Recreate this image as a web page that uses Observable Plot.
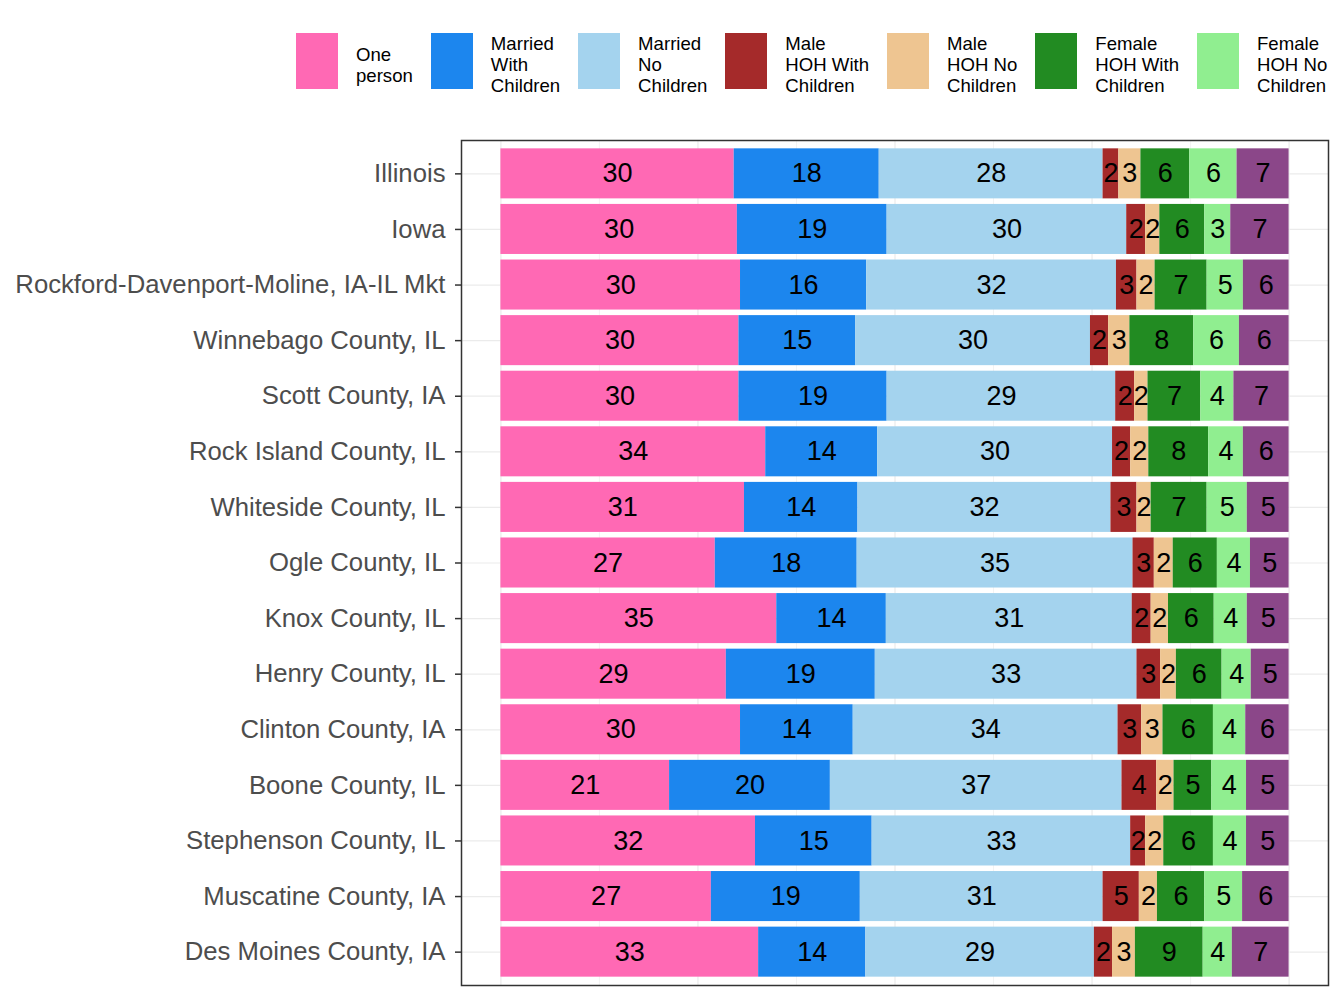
<!DOCTYPE html>
<html><head><meta charset="utf-8">
<script src="https://cdn.jsdelivr.net/npm/d3@7"></script>
<script src="https://cdn.jsdelivr.net/npm/@observablehq/plot@0.6"></script>
<style>
body{margin:0;background:#fff;font-family:"Liberation Sans",Arial,sans-serif;width:1344px;height:1008px;overflow:hidden}
#legend{position:relative;height:130px;width:1344px;overflow:hidden}
#legend .row{position:absolute;left:296px;top:33px;display:flex;align-items:flex-start;white-space:nowrap}
#legend .sw{width:42px;height:56px;margin-right:18px;flex:none}
#legend .lb{font-size:18.6px;line-height:21px;color:#000;margin-right:18px;white-space:pre;flex:none;align-self:center}
#chart{height:878px}
</style></head>
<body>
<div id="legend"><div class="row" id="lrow"></div></div>
<div id="chart"></div>
<script>
const counties = ["Illinois","Iowa","Rockford-Davenport-Moline, IA-IL Mkt","Winnebago County, IL","Scott County, IA","Rock Island County, IL","Whiteside County, IL","Ogle County, IL","Knox County, IL","Henry County, IL","Clinton County, IA","Boone County, IL","Stephenson County, IL","Muscatine County, IA","Des Moines County, IA"];
const categories = ["One person","Married With Children","Married No Children","Male HOH With Children","Male HOH No Children","Female HOH With Children","Female HOH No Children","Other"];
const legendLabels = ["One\nperson","Married\nWith\nChildren","Married\nNo\nChildren","Male\nHOH With\nChildren","Male\nHOH No\nChildren","Female\nHOH With\nChildren","Female\nHOH No\nChildren"];
const colors = ["#FF69B4","#1C86EE","#A4D3EE","#A52A2A","#EEC591","#228B22","#90EE90","#8B4789"];

const onePerson   = [29.6,30.0,30.4,30.2,30.2,33.6,30.9,27.2,35.0,28.6,30.4,21.4,32.3,26.7,32.7];
const marriedWith = [18.4,19.0,16.0,14.8,18.8,14.2,14.4,18.0,13.9,18.9,14.3,20.4,14.8,18.9,13.6];
const marriedNo   = [28.4,30.4,31.7,29.8,29.0,29.8,32.1,35.0,31.2,33.2,33.6,37.0,32.8,30.8,29.0];
const maleWith    = [2.0,2.4,2.6,2.3,2.4,2.3,3.3,2.7,2.4,3.0,3.0,4.4,1.9,4.6,2.3];
const maleNo      = [2.8,1.8,2.3,2.7,1.7,2.3,1.8,2.4,2.2,2.0,2.7,2.2,2.3,2.3,2.9];
const femaleWith  = [6.2,5.7,6.6,8.1,6.7,7.6,7.1,5.6,5.8,5.8,6.4,4.8,6.3,6.0,8.6];
const femaleNo    = [6.0,3.3,4.6,5.8,4.2,4.4,5.1,4.2,4.2,3.7,4.1,4.4,4.2,4.8,3.7];
const other       = [6.6,7.4,5.8,6.3,7.0,5.8,5.3,4.9,5.3,4.8,5.5,5.4,5.4,5.9,7.2];

const majorBreaks = [0,25,50,75,100];
const minorBreaks = [12.5,37.5,62.5,87.5];

const series = [onePerson,marriedWith,marriedNo,maleWith,maleNo,femaleWith,femaleNo,other];
const rows = [];
counties.forEach((c,i)=>{
  series.forEach((s,k)=>rows.push({county:c, cat:categories[k], value:s[i]}));
});

// legend
const lrow = document.getElementById("lrow");
legendLabels.forEach((t,k)=>{
  const sw=document.createElement("div"); sw.className="sw"; sw.style.background=colors[k];
  const lb=document.createElement("div"); lb.className="lb"; lb.textContent=t;
  lrow.appendChild(sw); lrow.appendChild(lb);
});

const chart = Plot.plot({
  width:1344, height:878,
  marginLeft:461, marginRight:16, marginTop:10, marginBottom:23,
  style:{fontFamily:"'Liberation Sans', Arial, sans-serif", background:"#fff"},
  x:{domain:[-5,105], axis:null},
  y:{domain:counties, paddingInner:0.1, paddingOuter:0.15, round:false, label:null},
  color:{domain:categories, range:colors},
  marks:[
    Plot.ruleX(minorBreaks,{stroke:"#EBEBEB", strokeWidth:0.6}),
    Plot.ruleX(majorBreaks,{stroke:"#EBEBEB", strokeWidth:1.2}),
    Plot.ruleY(counties,{stroke:"#EBEBEB", strokeWidth:1.2}),
    Plot.barX(rows,{x:"value", y:"county", fill:"cat"}),
    Plot.text(rows, Plot.stackX({x:"value", y:"county", z:"cat", text:d=>Math.round(d.value), fontSize:27, fill:"#000"})),
    Plot.axisY({tickSize:6, tickPadding:10, fontSize:25.7, fill:"#4D4D4D", stroke:"#333333", strokeWidth:1.5, label:null}),
    Plot.frame({stroke:"#333333", strokeWidth:1.5})
  ]
});
document.getElementById("chart").appendChild(chart);
</script>
</body></html>
